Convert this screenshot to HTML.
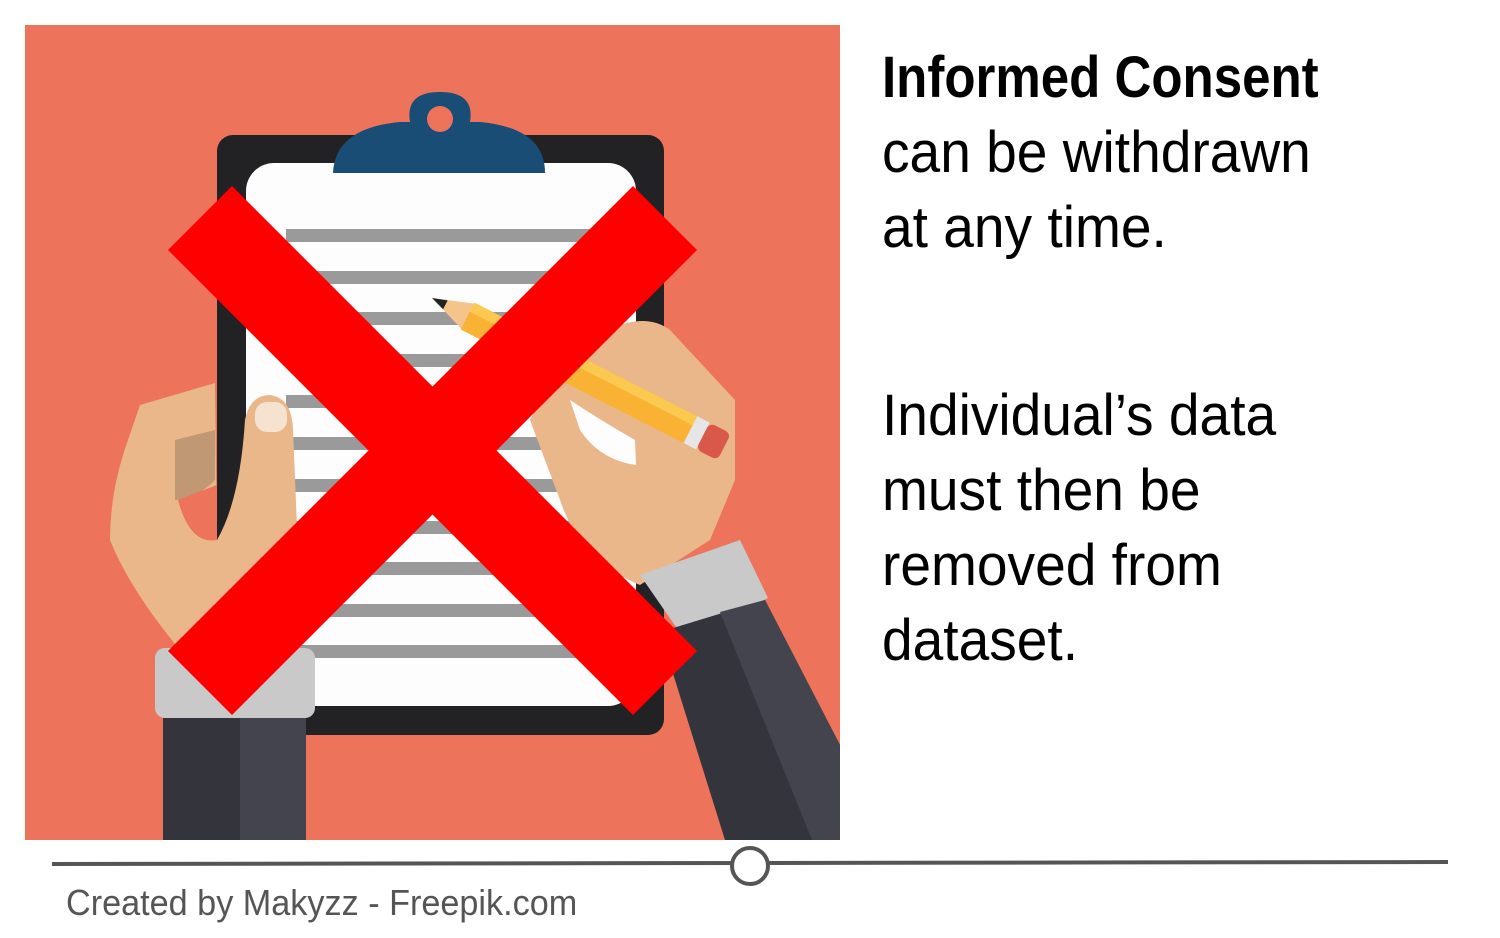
<!DOCTYPE html>
<html><head><meta charset="utf-8"><style>
html,body{margin:0;padding:0;background:#fff;width:1500px;height:938px;overflow:hidden}
.t{position:absolute;left:882px;font-family:"Liberation Sans Narrow","Liberation Sans",sans-serif;font-size:58px;color:#000;line-height:75px;transform:scaleX(0.95);transform-origin:left;white-space:nowrap}
</style></head><body>
<svg width="1500" height="938" style="position:absolute;left:0;top:0">
<rect x="25" y="25" width="815" height="815" fill="#ED735A"/>
<rect x="217" y="135" width="447" height="600" rx="16" fill="#222124"/>
<rect x="246" y="163" width="390" height="543" rx="28" fill="#FDFDFD"/>
<path d="M333 173 Q335 128 400 122 L410 122 Q405 92 440 92 Q475 92 470 122 L480 122 Q545 128 545 173 Z" fill="#1A4D75"/>
<circle cx="440" cy="119" r="13" fill="#ED735A"/>
<g fill="#9A9A9A">
<rect x="286" y="229" width="307" height="13"/><rect x="286" y="271" width="307" height="13"/><rect x="286" y="312" width="307" height="13"/><rect x="286" y="354" width="307" height="13"/><rect x="286" y="395" width="307" height="13"/><rect x="286" y="437" width="307" height="13"/><rect x="286" y="479" width="307" height="13"/><rect x="286" y="521" width="307" height="13"/><rect x="286" y="562" width="307" height="13"/><rect x="286" y="604" width="307" height="13"/><rect x="286" y="645" width="307" height="13"/>
</g>
<g>
<path d="M140 405 L215 383 L217 540 Q240 500 245 420 Q250 395 270 395 Q292 398 293 430 L300 600 L300 650 L180 650 Q130 590 110 540 Q110 490 128 440 Z" fill="#EAB78A"/>
<path d="M175 440 L215 430 L215 480 Q195 500 175 500 Z" fill="#C09873"/>
<path d="M178 500 Q190 545 217 540 L217 485 Z" fill="#ED735A"/>
<rect x="255" y="402" width="32" height="30" rx="12" fill="#F6E3CF"/>
<rect x="155" y="648" width="160" height="70" rx="10" fill="#C9C9C9"/>
<rect x="163" y="718" width="143" height="122" fill="#34343C"/>
<rect x="240" y="718" width="66" height="122" fill="#44444E"/>
</g>
<g>
<path d="M530 420 Q560 360 620 325 Q650 315 670 330 L735 400 L735 480 L710 540 L640 585 Q580 560 560 500 Z" fill="#EAB78A"/>
<path d="M570 400 Q600 420 635 440 L636 465 Q600 460 580 430 Z" fill="#FDFDFD"/>
<path d="M640 575 L740 540 L768 598 L685 640 Z" fill="#C9C9C9"/>
<path d="M660 632 L765 600 L840 745 L840 840 L725 840 Z" fill="#34343C"/>
<path d="M720 612 L765 600 L840 745 L840 840 L812 840 Z" fill="#44444E"/>
</g>
<g transform="translate(432,298) rotate(27)">
<polygon points="0,0 40,-14 40,14" fill="#F5C48A"/>
<polygon points="0,0 15,-5 15,5" fill="#222"/>
<rect x="40" y="-15" width="250" height="30" fill="#F9B233"/>
<rect x="40" y="-15" width="250" height="10" fill="#FBC94F"/>
<rect x="290" y="-15" width="14" height="30" fill="#E6E6E6"/>
<rect x="304" y="-15" width="24" height="30" rx="6" fill="#D9584A"/>
</g>
<g fill="#FF0000">
<polygon points="168,250 232,186 697,651 633,715"/>
<polygon points="633,186 697,250 232,715 168,651"/>
</g>
<line x1="52" y1="864" x2="1448" y2="862" stroke="#555" stroke-width="4"/>
<circle cx="750" cy="866" r="18" fill="#fff" stroke="#555" stroke-width="4"/>
</svg>
<div class="t" style="top:40px;font-weight:bold;transform:scaleX(0.88)">Informed Consent</div>
<div class="t" style="top:115px">can be withdrawn<br>at any time.</div>
<div class="t" style="top:378px">Individual’s data<br>must then be<br>removed from<br>dataset.</div>
<div style="position:absolute;left:66px;top:882px;font-family:'Liberation Sans Narrow','Liberation Sans',sans-serif;font-size:36px;color:#555;transform:scaleX(0.95);transform-origin:left;white-space:nowrap">Created by Makyzz - Freepik.com</div>
</body></html>
